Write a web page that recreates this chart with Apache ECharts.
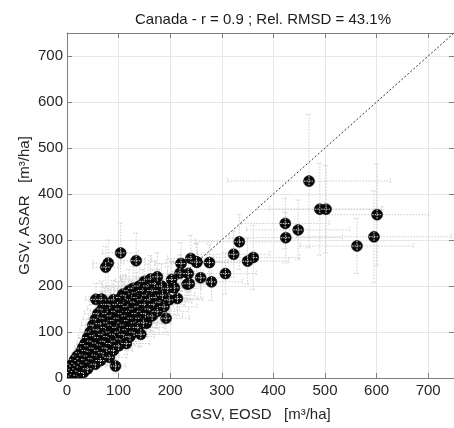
<!DOCTYPE html>
<html>
<head>
<meta charset="utf-8">
<script src="https://cdn.jsdelivr.net/npm/echarts@6/dist/echarts.min.js"></script>
<style>
html,body{margin:0;padding:0;background:#fff;}
#chart{width:454px;height:428px;}
</style>
</head>
<body>
<div id="chart"></div>
<script>
const titleText = "Canada - r = 0.9 ; Rel. RMSD = 43.1%";
const xName = "GSV, EOSD   [m\u00b3/ha]";
const yName = "GSV, ASAR   [m\u00b3/ha]";
const tickValues = [0, 100, 200, 300, 400, 500, 600, 700];

// GSV from EOSD (x), GSV from ASAR (y), and error half-widths
const gsvEOSD = [
  469,490,502,601,595,562,423,448,424,334,323,361,350,307,276,252,259,280,
  104,134,80,75,108,68,56,66,94,221,240,251,219,235,233,203,208,214,192,154,237,
  2,4,5,6,8,8,10,10,12,12,14,15,15,17,18,20,20,22,22,24,
  25,26,28,28,30,30,32,33,35,35,37,38,40,40,42,43,45,45,47,48,50,50,
  52,53,55,55,57,58,60,60,62,63,65,65,67,68,70,70,72,73,75,75,
  77,78,80,80,82,83,85,85,87,88,90,90,92,93,95,95,97,98,100,100,
  102,103,105,105,107,108,110,110,112,113,115,115,117,118,120,120,122,123,125,125,
  127,128,130,130,132,133,135,135,137,138,140,140,142,143,145,145,147,148,150,150,
  152,155,157,160,160,162,165,165,168,170,172,175,175,178,180,183,185,188,195,198
];
const gsvASAR = [
  428,367,367,355,307,287,336,322,305,296,269,262,254,227,251,252,218,209,
  272,255,250,241,182,171,171,171,26,249,260,252,228,227,204,214,196,173,130,119,205,
  3,8,2,15,5,22,12,30,4,18,26,8,40,14,32,20,48,6,28,38,
  15,55,24,42,33,65,12,50,28,75,40,60,20,88,48,70,35,100,58,80,42,115,
  65,92,30,128,50,76,105,140,60,88,38,118,72,150,95,55,130,80,110,160,
  65,140,90,120,45,160,100,75,135,115,60,170,95,125,145,80,110,160,130,70,
  100,150,85,175,120,140,95,160,115,180,135,75,105,155,125,190,90,145,170,110,
  130,195,100,150,165,120,140,185,110,175,155,200,130,95,170,145,190,120,160,210,
  140,180,200,150,170,215,135,190,160,205,175,145,220,190,165,200,180,155,195,170
];
const errEOSD = [
  158,120,110,100,150,110,85,100,110,85,70,90,80,60,70,60,55,60,
  35,30,30,25,30,25,20,20,20,50,45,50,45,40,45,40,40,40,45,35,40,
  3,4,4,5,5,6,6,7,7,7,8,8,9,9,10,10,11,11,12,12,
  12,13,13,14,14,15,15,15,16,16,17,17,18,18,18,19,19,20,20,21,21,22,
  22,23,23,24,24,25,25,26,26,27,27,28,28,29,29,30,30,31,31,32,
  32,33,33,34,34,35,35,35,36,36,37,37,38,38,38,39,39,40,40,40,
  41,41,42,42,42,43,43,44,44,44,45,45,45,46,46,47,47,47,48,48,
  48,49,49,50,50,50,51,51,52,52,52,53,53,53,54,54,55,55,55,56,
  56,57,57,58,58,58,59,59,60,60,60,61,61,62,62,63,63,64,65,66
];
const errASAR = [
  145,100,95,110,100,60,55,65,55,60,50,70,50,45,40,40,45,40,
  65,60,50,45,40,40,35,35,15,45,50,40,40,40,35,40,35,35,30,30,35,
  4,6,3,8,5,10,7,12,4,9,11,6,15,8,13,10,17,5,12,15,
  9,19,11,16,14,21,8,18,12,23,16,20,10,26,18,22,14,28,20,24,16,31,
  21,26,12,34,18,23,29,36,20,26,14,32,22,38,27,19,34,24,30,40,
  21,36,26,32,16,40,28,23,35,31,20,42,27,33,37,24,30,40,34,22,
  28,38,25,43,32,36,27,40,31,44,35,23,29,39,33,46,26,37,42,30,
  34,47,28,38,41,32,36,45,30,43,39,48,34,27,42,37,46,32,40,50,
  36,44,48,38,42,51,35,46,40,49,43,37,52,46,41,48,44,39,47,42
];

const pts = gsvEOSD.map((x, i) => [x, gsvASAR[i], errEOSD[i], errASAR[i]]);
const oneToOne = [[0, 0], [750, 750]];

const chart = echarts.init(document.getElementById('chart'), null, {renderer: 'canvas'});
const FONT = 'Liberation Sans, Arial, sans-serif';
const axisGray = '#7f7f7f';
const labelCol = '#262626';
const FS = 15;

function fmt(v) { return tickValues.indexOf(v) >= 0 ? String(v) : ''; }

chart.setOption({
  backgroundColor: '#ffffff',
  animation: false,
  title: {
    text: titleText,
    left: 258,
    top: 7,
    textAlign: 'center',
    textStyle: {fontFamily: FONT, fontSize: FS, fontWeight: 'normal', color: '#1a1a1a'}
  },
  grid: {left: 67, right: -8, top: 33, bottom: 50, containLabel: false},
  xAxis: [{
    type: 'value', min: 0, max: 750, interval: 100, position: 'bottom',
    name: xName, nameLocation: 'middle', nameGap: 29, nameMoveOverlap: false,
    nameTextStyle: {fontFamily: FONT, fontSize: FS, color: labelCol},
    axisLine: {show: true, onZero: false, lineStyle: {color: axisGray, width: 1}},
    axisTick: {show: true, inside: true, length: 5, lineStyle: {color: axisGray}},
    axisLabel: {formatter: fmt, fontFamily: FONT, fontSize: FS, color: labelCol, margin: 5, showMaxLabel: false},
    splitLine: {show: true, lineStyle: {color: '#e6e6e6', width: 1}}
  }, {
    type: 'value', min: 0, max: 750, interval: 100, position: 'top',
    axisLine: {show: true, onZero: false, lineStyle: {color: axisGray, width: 1}},
    axisTick: {show: true, inside: true, length: 5, lineStyle: {color: axisGray}},
    axisLabel: {show: false}, splitLine: {show: false}
  }],
  yAxis: [{
    type: 'value', min: 0, max: 750, interval: 100, position: 'left',
    name: yName, nameLocation: 'middle', nameGap: 35, nameMoveOverlap: false,
    nameTextStyle: {fontFamily: FONT, fontSize: FS, color: labelCol},
    axisLine: {show: true, onZero: false, lineStyle: {color: axisGray, width: 1}},
    axisTick: {show: true, inside: true, length: 5, lineStyle: {color: axisGray}},
    axisLabel: {formatter: fmt, fontFamily: FONT, fontSize: FS, color: labelCol, margin: 4, showMaxLabel: false},
    splitLine: {show: true, lineStyle: {color: '#e6e6e6', width: 1}}
  }, {
    type: 'value', min: 0, max: 750, interval: 100, position: 'right',
    axisLine: {show: true, onZero: false, lineStyle: {color: axisGray, width: 1}},
    axisTick: {show: true, inside: true, length: 5, lineStyle: {color: axisGray}},
    axisLabel: {show: false}, splitLine: {show: false}
  }],
  series: [{
    type: 'custom', data: pts, clip: true, z: 2, silent: true,
    renderItem: function (params, api) {
      const x = api.value(0), y = api.value(1), ex = api.value(2), ey = api.value(3);
      const c = api.coord([x, y]);
      const l = api.coord([x - ex, y]);
      const r = api.coord([x + ex, y]);
      const b = api.coord([x, y - ey]);
      const t = api.coord([x, y + ey]);
      const cap = 3;
      const style = {stroke: '#cdcdcd', lineWidth: 1, lineDash: [1.5, 1.5], fill: null};
      const seg = (x1, y1, x2, y2) => ({type: 'line', shape: {x1, y1, x2, y2}, style});
      return {type: 'group', children: [
        seg(l[0], c[1], r[0], c[1]),
        seg(l[0], c[1] - cap, l[0], c[1] + cap),
        seg(r[0], c[1] - cap, r[0], c[1] + cap),
        seg(c[0], t[1], c[0], b[1]),
        seg(c[0] - cap, t[1], c[0] + cap, t[1]),
        seg(c[0] - cap, b[1], c[0] + cap, b[1])
      ]};
    }
  }, {
    type: 'line', data: oneToOne, symbol: 'none', silent: true, z: 3,
    lineStyle: {color: '#333', width: 1, type: [2, 2]}
  }, {
    type: 'custom', data: pts, clip: true, z: 4, silent: true,
    renderItem: function (params, api) {
      const c = api.coord([api.value(0), api.value(1)]);
      const h = 5;
      const style = {stroke: '#d8d8d8', lineWidth: 1, lineDash: [1.5, 1], fill: null};
      return {type: 'group', children: [
        {type: 'circle', shape: {cx: c[0], cy: c[1], r: 5.5}, style: {fill: '#080808', stroke: '#000', lineWidth: 0.5}},
        {type: 'line', shape: {x1: c[0] - h, y1: c[1], x2: c[0] + h, y2: c[1]}, style},
        {type: 'line', shape: {x1: c[0], y1: c[1] - h, x2: c[0], y2: c[1] + h}, style}
      ]};
    }
  }]
});
</script>
</body>
</html>
